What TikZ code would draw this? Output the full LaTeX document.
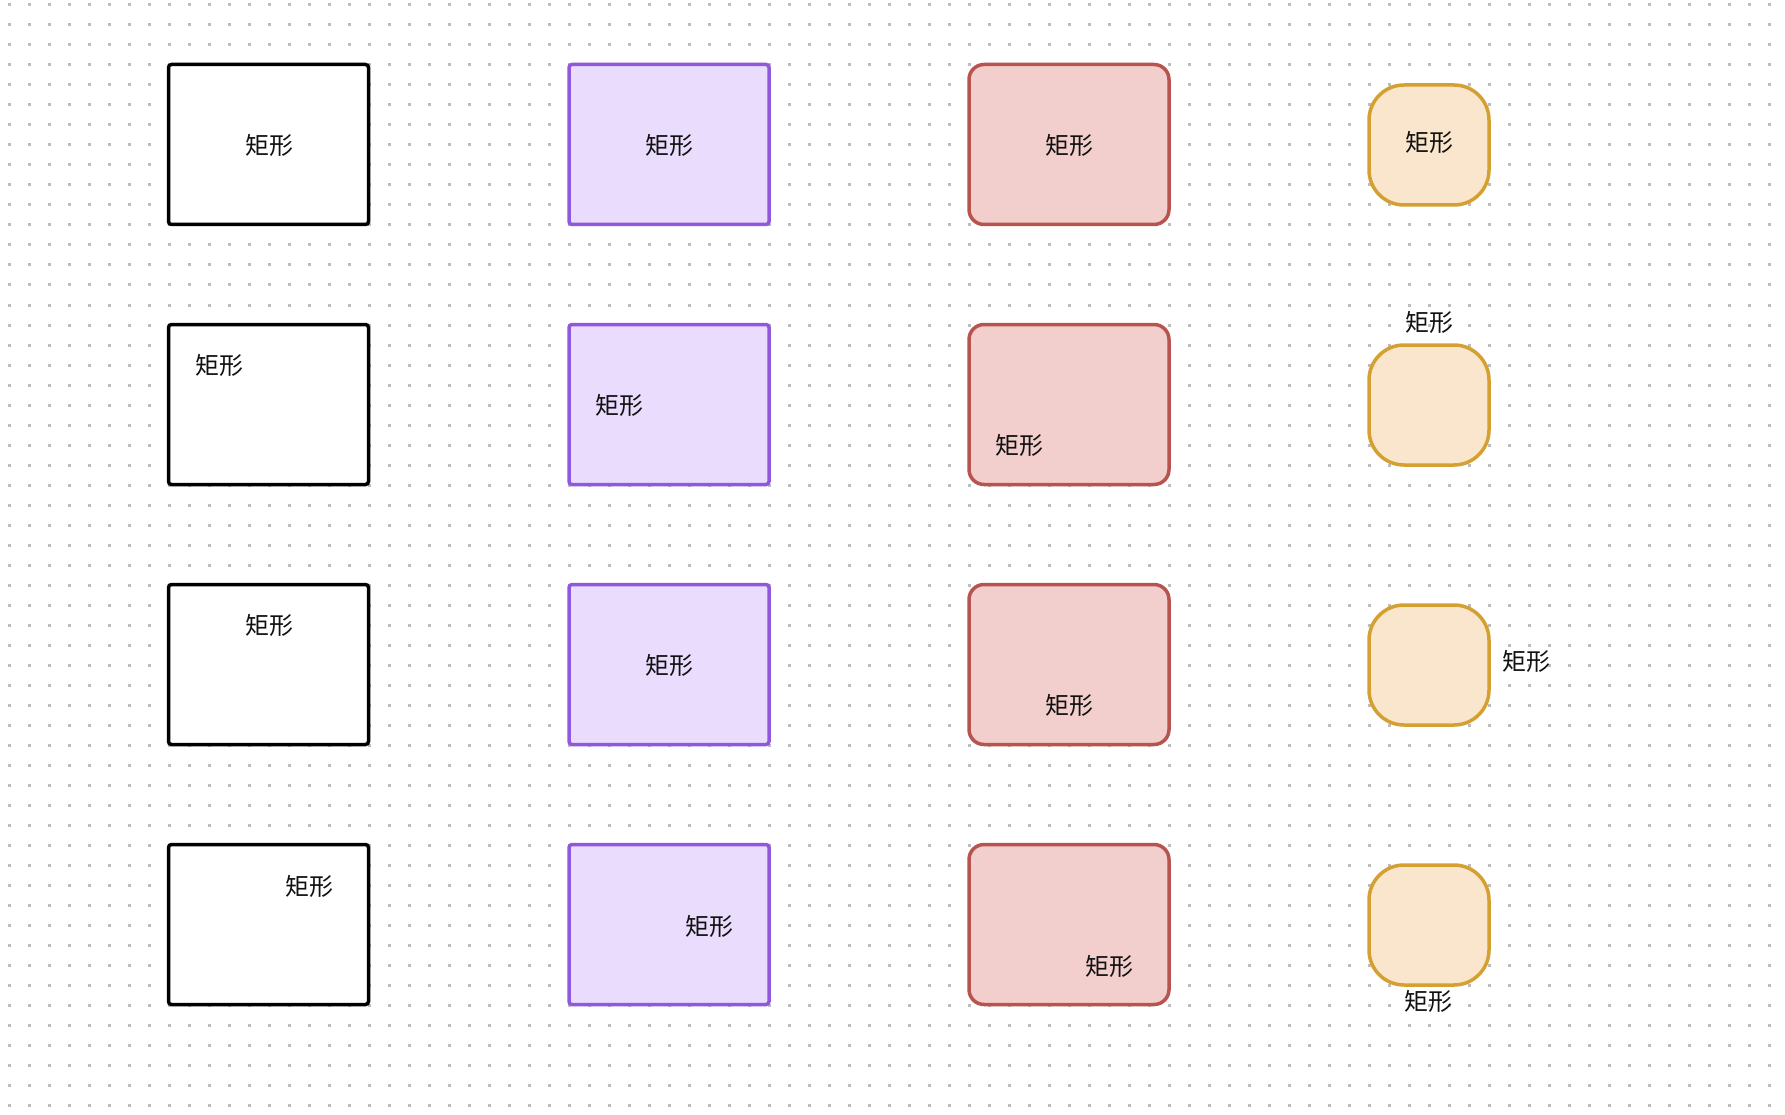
\documentclass[tikz,border=0pt]{standalone}
\usepackage{fontspec}
\newfontfamily\cjk{Noto Sans CJK SC}
\definecolor{dotc}{HTML}{BDBDBD}
\definecolor{purpleS}{HTML}{9059DD}
\definecolor{purpleF}{HTML}{EADCFD}
\definecolor{redS}{HTML}{B85450}
\definecolor{redF}{HTML}{F2CFCC}
\definecolor{orangeS}{HTML}{D4A031}
\definecolor{orangeF}{HTML}{FAE5CD}
\definecolor{txt}{HTML}{111111}
\begin{document}
\begin{tikzpicture}[x=1pt,y=-1pt,
  box/.style={shape=rectangle,minimum width=200pt,minimum height=160pt,inner sep=0pt,line width=3.5pt},
  plainbox/.style={box,draw=black,fill=white,rounded corners=3pt},
  purplebox/.style={box,draw=purpleS,fill=purpleF,rounded corners=3pt},
  redbox/.style={box,draw=redS,fill=redF,rounded corners=15pt},
  roundbox/.style={shape=rectangle,minimum width=120pt,minimum height=120pt,inner sep=0pt,line width=3.5pt,draw=orangeS,fill=orangeF,rounded corners=35pt},
  lbl/.style={inner sep=0pt,text=txt,font=\cjk\fontsize{24}{28}\selectfont}
]
\useasboundingbox (0,0) rectangle (1785,1115);
\fill[white] (0,0) rectangle (1785,1115);
\foreach \i in {0,...,88}{
  \foreach \j in {0,...,55}{
    \fill[dotc] ({7.5+20*\i},{3.5+20*\j}) rectangle ++(3,3);
  }
}
% column 1
\node[plainbox] (a1) at (268.5,144.5) {};
\node[plainbox] (a2) at (268.5,404.5) {};
\node[plainbox] (a3) at (268.5,664.5) {};
\node[plainbox] (a4) at (268.5,924.5) {};
% column 2
\node[purplebox] (b1) at (669,144.5) {};
\node[purplebox] (b2) at (669,404.5) {};
\node[purplebox] (b3) at (669,664.5) {};
\node[purplebox] (b4) at (669,924.5) {};
% column 3
\node[redbox] (c1) at (1069,144.5) {};
\node[redbox] (c2) at (1069,404.5) {};
\node[redbox] (c3) at (1069,664.5) {};
\node[redbox] (c4) at (1069,924.5) {};
% column 4
\node[roundbox] (d1) at (1429,145) {};
\node[roundbox] (d2) at (1429,405) {};
\node[roundbox] (d3) at (1429,665) {};
\node[roundbox] (d4) at (1429,925) {};
% labels
\node[lbl] (la1) at (269,145.5) {矩形};
\node[lbl] (la2) at (219,365) {矩形};
\node[lbl] (la3) at (269,625) {矩形};
\node[lbl] (la4) at (309,886.5) {矩形};
\node[lbl] (lb1) at (669,145) {矩形};
\node[lbl] (lb2) at (619,405) {矩形};
\node[lbl] (lb3) at (669,665) {矩形};
\node[lbl] (lb4) at (709,926) {矩形};
\node[lbl] (lc1) at (1069,145) {矩形};
\node[lbl] (lc2) at (1019,445) {矩形};
\node[lbl] (lc3) at (1069,705) {矩形};
\node[lbl] (lc4) at (1109,966.5) {矩形};
\node[lbl] (ld1) at (1429,142.5) {矩形};
\node[lbl] (ld2) at (1429,322.5) {矩形};
\node[lbl] (ld3) at (1526,661.5) {矩形};
\node[lbl] (ld4) at (1428,1001.5) {矩形};
\end{tikzpicture}
\end{document}
